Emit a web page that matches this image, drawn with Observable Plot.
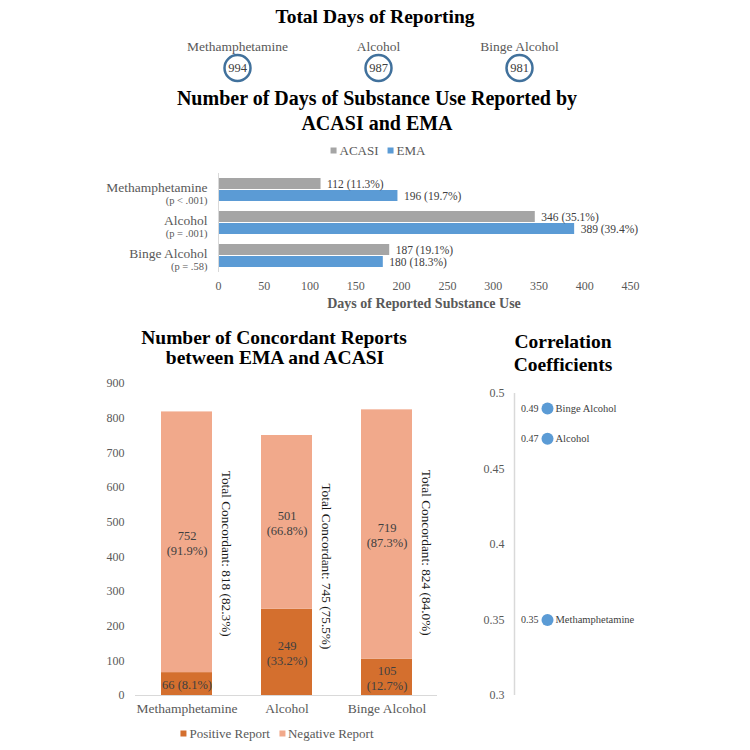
<!DOCTYPE html>
<html><head><meta charset="utf-8">
<script src="https://cdn.jsdelivr.net/npm/d3@7"></script>
<script src="https://cdn.jsdelivr.net/npm/@observablehq/plot@0.6"></script>
<style>
html,body{margin:0;padding:0;background:#fff;}
#root{position:relative;width:750px;height:750px;overflow:hidden;font-family:"Liberation Serif","Times New Roman",serif;}
.abs{position:absolute;white-space:nowrap;transform:translate(-50%,-50%);line-height:1;font-family:"Liberation Serif","Times New Roman",serif;}
.title{font-weight:bold;font-size:19.5px;color:#000;}
.legend{display:flex;align-items:center;font-size:13px;color:#595959;}
.sw{display:inline-block;width:6px;height:6px;margin-right:3px;}
#root svg{position:absolute;}
</style></head><body><div id="root"></div>
<script>
// ---------- data ----------
const substances = ["Methamphetamine", "Alcohol", "Binge Alcohol"];
const totalDays = [994, 987, 981];

const seriesNames = ["ACASI", "EMA"];
const acasiDays = [112, 346, 187];
const acasiPct = ["11.3%", "35.1%", "19.1%"];
const emaDays = [196, 389, 180];
const emaPct = ["19.7%", "39.4%", "18.3%"];
const pValues = ["< .001", "= .001", "= .58"];
const dayTicks = [0, 50, 100, 150, 200, 250, 300, 350, 400, 450];

const reportTypes = ["Positive Report", "Negative Report"];
const positiveCounts = [66, 249, 105];
const positivePct = ["8.1%", "33.2%", "12.7%"];
const negativeCounts = [752, 501, 719];
const negativePct = ["91.9%", "66.8%", "87.3%"];
const concordantTotals = [818, 745, 824];
const concordantPct = ["82.3%", "75.5%", "84.0%"];
const countTicks = [0, 100, 200, 300, 400, 500, 600, 700, 800, 900];

const corrValues = [0.35, 0.47, 0.49];
const corrTicks = [0.3, 0.35, 0.4, 0.45, 0.5];

// ---------- helpers ----------
const root = document.getElementById("root");
const FONT = "Liberation Serif";
function addSvg(svg, left, top) {
  svg.style.left = left + "px";
  svg.style.top = top + "px";
  root.appendChild(svg);
  return svg;
}
function addText(txt, x, y, cls, extra) {
  const d = document.createElement("div");
  d.className = "abs " + (cls || "");
  d.style.left = x + "px";
  d.style.top = y + "px";
  if (extra) Object.assign(d.style, extra);
  d.textContent = txt;
  root.appendChild(d);
  return d;
}
function addLegend(names, colors, x, y) {
  const d = document.createElement("div");
  d.className = "abs legend";
  d.style.left = x + "px";
  d.style.top = y + "px";
  names.forEach((n, i) => {
    const s = document.createElement("span");
    s.className = "sw";
    s.style.background = colors[i];
    const t = document.createElement("span");
    t.textContent = n;
    t.style.marginRight = i < names.length - 1 ? "9px" : "0";
    d.appendChild(s); d.appendChild(t);
  });
  root.appendChild(d);
}
const baseStyle = {fontFamily: FONT, fontSize: "12px", color: "#595959", background: "transparent", overflow: "visible"};

// ---------- 1. Total days of reporting ----------
const dayRows = substances.map((s, i) => ({cat: s, days: totalDays[i]}));
const p0 = Plot.plot({
  width: 750, height: 90, marginTop: 45, marginBottom: 0, marginLeft: 236, marginRight: 231,
  style: baseStyle,
  x: {type: "point", domain: substances, padding: 0, axis: null},
  marks: [
    Plot.dot(dayRows, {x: "cat", r: 13, stroke: "#41719c", strokeWidth: 2.5, fill: "white"}),
    Plot.text(dayRows, {x: "cat", text: d => String(d.days), fontSize: 12.5, fill: "#404040"}),
    Plot.text(dayRows, {x: "cat", text: "cat", frameAnchor: "top", dy: -4, fontSize: 13.5, fill: "#595959"})
  ]
});
addSvg(p0, 0, 0);

// ---------- 2. Days of substance use ----------
const useRows = substances.flatMap((s, i) => [
  {cat: s, series: "ACASI", value: acasiDays[i], pct: acasiPct[i]},
  {cat: s, series: "EMA", value: emaDays[i], pct: emaPct[i]}
]);
const catRows = substances.map((s, i) => ({cat: s, p: pValues[i]}));
const p1 = Plot.plot({
  width: 750, height: 160, marginTop: 12, marginBottom: 48, marginLeft: 218, marginRight: 120,
  style: baseStyle,
  x: {domain: [0, 450], ticks: dayTicks, tickSize: 0, tickPadding: 9, label: null},
  y: {domain: seriesNames, axis: null, paddingInner: 0.1, paddingOuter: 0.405},
  fy: {domain: substances, axis: null, padding: 0},
  color: {domain: seriesNames, range: ["#a5a5a5", "#5b9bd5"]},
  marks: [
    Plot.barX(useRows, {x: "value", y: "series", fy: "cat", fill: "series"}),
    Plot.text(useRows, {x: "value", y: "series", fy: "cat", text: d => `${d.value} (${d.pct})`,
      textAnchor: "start", dx: 6, fill: "#404040", fontSize: 11.5}),
    Plot.text(catRows, {fy: "cat", frameAnchor: "left", text: "cat", textAnchor: "end", dx: -11, dy: -2,
      fontSize: 13.5, fill: "#595959"}),
    Plot.text(catRows, {fy: "cat", frameAnchor: "left", text: d => `(p ${d.p})`, textAnchor: "end",
      dx: -11, dy: 11, fontSize: 10.5, fill: "#595959", ariaLabel: "pvalue"}),
    Plot.ruleX([0], {stroke: "#d9d9d9"})
  ]
});
d3.select(p1).selectAll('g[aria-label="pvalue"] text').each(function () {
  const t = this.textContent;
  const sel = d3.select(this);
  sel.text("");
  sel.append("tspan").text("(");
  sel.append("tspan").attr("font-style", "italic").text("p");
  sel.append("tspan").text(t.slice(2));
});
addSvg(p1, 0, 160);

// ---------- 3. Concordant reports ----------
const stackRows = [
  ...substances.map((s, i) => ({cat: s, type: reportTypes[0], value: positiveCounts[i], pct: positivePct[i]})),
  ...substances.map((s, i) => ({cat: s, type: reportTypes[1], value: negativeCounts[i], pct: negativePct[i]}))
];
const totRows = substances.map((s, i) => ({cat: s, total: concordantTotals[i], pct: concordantPct[i]}));
const orange = ["#d46f2e", "#f1a98b"];
const p2 = Plot.plot({
  width: 470, height: 350, marginTop: 13, marginBottom: 25, marginLeft: 135, marginRight: 33,
  style: baseStyle,
  x: {domain: substances, paddingInner: 0.494, paddingOuter: 0.247, axis: null},
  y: {domain: [0, 900], ticks: countTicks, tickSize: 0, tickPadding: 11, label: null},
  color: {domain: reportTypes, range: orange},
  marks: [
    Plot.barY(stackRows, {x: "cat", y: "value", fill: "type"}),
    Plot.text(stackRows, Plot.stackY({x: "cat", y: "value", z: "type",
      text: d => d.value < 80 ? `${d.value} (${d.pct})` : `${d.value}\n(${d.pct})`,
      fontSize: 12.5, lineHeight: 1.2, fill: "#404040"})),
    Plot.text(totRows, {x: "cat", y: d => d.total / 2, text: d => `Total Concordant: ${d.total} (${d.pct})`,
      rotate: 90, dx: 39, fontSize: 13.3, fill: "#1a1a1a"}),
    Plot.ruleY([0], {stroke: "#d9d9d9"}),
    Plot.axisX({tickSize: 0, tickPadding: 8, fontSize: 13.5, label: null})
  ]
});
addSvg(p2, 0, 370);

// ---------- 4. Correlation coefficients ----------
const corrRows = substances.map((s, i) => ({cat: s, r: corrValues[i]}));
const p3 = Plot.plot({
  width: 270, height: 330, marginTop: 13, marginBottom: 15, marginLeft: 34, marginRight: 10,
  style: baseStyle,
  x: {domain: [0, 1], axis: null},
  y: {domain: [0.3, 0.5], ticks: corrTicks, tickFormat: d => String(d), tickSize: 0, tickPadding: 10, label: null},
  marks: [
    Plot.ruleX([0], {stroke: "#d9d9d9", strokeWidth: 1.5}),
    Plot.dot(corrRows, {y: "r", frameAnchor: "left", dx: 33, r: 6, fill: "#5b9bd5"}),
    Plot.text(corrRows, {y: "r", frameAnchor: "left", dx: 24, textAnchor: "end",
      text: d => d3.format(".2f")(d.r), fontSize: 10, fill: "#404040"}),
    Plot.text(corrRows, {y: "r", frameAnchor: "left", dx: 41, textAnchor: "start",
      text: "cat", fontSize: 10.5, fill: "#404040"})
  ]
});
addSvg(p3, 480, 380);

// ---------- titles, labels, legends ----------
addText("Total Days of Reporting", 375, 16.5, "title");
addText("Number of Days of Substance Use Reported by", 377, 98, "title", {fontSize: "20px"});
addText("ACASI and EMA", 377, 123, "title", {fontSize: "20px"});
addLegend(seriesNames, ["#a5a5a5", "#5b9bd5"], 378, 150);
addText("Days of Reported Substance Use", 424, 304, "", {fontWeight: "bold", fontSize: "14px", color: "#595959"});
addText("Number of Concordant Reports", 274, 337.5, "title");
addText("between EMA and ACASI", 275, 357.5, "title");
addLegend(reportTypes, orange, 277, 733);
addText("Correlation", 563, 341.5, "title");
addText("Coefficients", 563, 364.5, "title");
</script></body></html>
